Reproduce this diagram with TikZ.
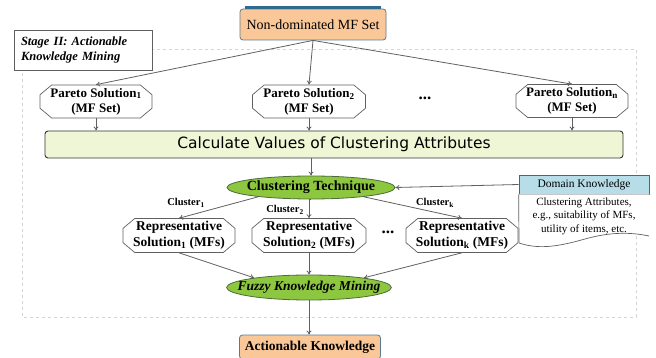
\documentclass[tikz,border=0pt]{standalone}
\usepackage{fontspec}
\setmainfont{Liberation Serif}
\newfontfamily\calcfont{DejaVu Sans}
\usetikzlibrary{shapes.misc,shapes.geometric,arrows.meta}
\definecolor{orangefill}{HTML}{FAC898}
\definecolor{orangeedge}{HTML}{5A7A8F}
\definecolor{greenfill}{HTML}{8DC63F}
\definecolor{greenedge}{HTML}{4F6B3A}
\definecolor{calcfill}{HTML}{EEF6D5}
\definecolor{dkblue}{HTML}{B7DEE8}
\definecolor{linegray}{HTML}{606060}
\definecolor{topstrip}{HTML}{2E6A8E}
\definecolor{dashgray}{HTML}{D4D4D4}
\newcommand\sbs[1]{\textsubscript{#1}}
\begin{document}
\begin{tikzpicture}[x=1pt,y=-1pt,
  conn/.style={draw=linegray, line width=0.8pt, -{To[length=4pt,width=5pt]}},
  octbox/.style={chamfered rectangle, chamfered rectangle xsep=8pt, chamfered rectangle angle=50,
     draw=linegray, line width=0.7pt, fill=white, align=center, inner sep=0pt,
     font=\bfseries\fontsize{13.5}{15.5}\selectfont, minimum height=33pt},
  paretofont/.style={font=\bfseries\fontsize{13}{15}\selectfont},
  orangebox/.style={draw=orangeedge, line width=0.8pt, fill=orangefill, rounded corners=3pt, inner sep=0pt},
  greenell/.style={ellipse, draw=greenedge, line width=0.8pt, fill=greenfill, inner ysep=0pt,
     font=\bfseries\fontsize{14}{16}\selectfont},
  clab/.style={font=\bfseries\fontsize{10.5}{12}\selectfont, inner sep=0pt},
  dots/.style={font=\bfseries\fontsize{17}{17}\selectfont, inner sep=0pt}
]
\useasboundingbox (0,0) rectangle (656,358);
% dashed stage region
\draw[dashgray, line width=0.7pt, dash pattern=on 3pt off 3pt] (22,49) rectangle (636,317);
% stage label
\node[draw=linegray, line width=0.9pt, fill=white, minimum width=138pt, minimum height=40pt,
  text width=124pt, align=left, inner sep=0pt, font=\bfseries\itshape\fontsize{12.5}{15}\selectfont] (stage) at (83,50)
  {Stage II: Actionable\\Knowledge Mining};
% top box
\node[orangebox, minimum width=146pt, minimum height=31pt, font=\fontsize{14}{16}\selectfont] (top) at (313,24.5) {Non-dominated MF Set};
\draw[topstrip, line width=2.5pt] ([xshift=5pt,yshift=1pt]top.north west) -- ([xshift=-5pt,yshift=1pt]top.north east);
% Pareto solutions
\node[octbox, paretofont, minimum width=112pt] (p1) at (96,101.5) {Pareto Solution\sbs{1}\\(MF Set)};
\node[octbox, paretofont, minimum width=113pt] (p2) at (309,101.5) {Pareto Solution\sbs{2}\\(MF Set)};
\node[octbox, paretofont, minimum width=112pt] (pn) at (572,101) {Pareto Solution\sbs{n}\\(MF Set)};
\node[dots] (d1) at (425,98) {...};
% calc box
\node[draw=black!80, line width=0.9pt, fill=calcfill, rounded corners=3pt, minimum width=578pt, minimum height=27pt,
  inner sep=0pt, font=\calcfont\fontsize{15.5}{18}\selectfont] (calc) at (334,144.5) {Calculate Values of Clustering Attributes};
% clustering technique
\node[greenell, inner xsep=-11pt, minimum width=168pt, minimum height=23pt] (ct) at (311,187.5) {Clustering Technique};
% domain knowledge
\node[draw=linegray, line width=0.7pt, fill=dkblue, minimum width=130pt, minimum height=19pt, inner sep=0pt,
  font=\fontsize{11.5}{13}\selectfont] (dkh) at (584,184.5) {Domain Knowledge};
\fill[white] (dkh.south west) -- (519,243)
   .. controls (540,250) and (560,246) .. (585,239)
   .. controls (610,232) and (630,232) .. (649,236) -- (dkh.south east) -- cycle;
\draw[linegray, line width=0.7pt] (dkh.south west) -- (519,243)
   .. controls (540,250) and (560,246) .. (585,239)
   .. controls (610,232) and (630,232) .. (649,236);
\node[align=center, inner sep=0pt, font=\fontsize{11}{13.5}\selectfont] (dk) at (584,216)
  {Clustering Attributes,\\e.g., suitability of MFs,\\utility of items, etc.};
% representatives
\node[octbox, minimum width=112pt] (r1) at (179,235.5) {Representative\\Solution\sbs{1} (MFs)};
\node[octbox, minimum width=114pt] (r2) at (309,235.5) {Representative\\Solution\sbs{2} (MFs)};
\node[octbox, minimum width=112pt] (rk) at (462,235.5) {Representative\\Solution\sbs{k} (MFs)};
\node[dots] (d2) at (388,232) {...};
% cluster labels
\node[clab] (c1) at (186,203) {Cluster\sbs{1}};
\node[clab] (c2) at (285,210) {Cluster\sbs{2}};
\node[clab] (ck) at (435,203) {Cluster\sbs{k}};
% fuzzy mining
\node[greenell, inner xsep=-13pt, minimum width=162pt, minimum height=25pt, font=\bfseries\itshape\fontsize{13.5}{15}\selectfont] (fz) at (309,287.5) {Fuzzy Knowledge Mining};
% actionable
\node[orangebox, minimum width=141pt, minimum height=24pt, font=\bfseries\fontsize{13.5}{15}\selectfont] (ak) at (310,347) {Actionable Knowledge};
% connectors
\draw[conn] (top.south) -- (p1.north);
\draw[conn] (top.south) -- (p2.north);
\draw[conn] (top.south) -- (pn.north);
\draw[conn] (p1.south) -- (p1.south |- calc.north);
\draw[conn] (p2.south) -- (p2.south |- calc.north);
\draw[conn] (pn.south) -- (pn.south |- calc.north);
\draw[conn] (calc.south -| ct.north) -- (ct.north);
\draw[conn] (dkh.west) -- (ct.east);
\draw[conn] (ct.190) -- (r1.north);
\draw[conn] (ct.south) -- (ct.south -| r2.north) -- (r2.north);
\draw[conn] (ct.350) -- (rk.north);
\draw[conn] (r1.south) -- (fz.170);
\draw[conn] (r2.south) -- (r2.south |- fz.north);
\draw[conn] (rk.south) -- (fz.10);
\draw[conn] (fz.south) -- (fz.south |- ak.north);
\end{tikzpicture}
\end{document}
